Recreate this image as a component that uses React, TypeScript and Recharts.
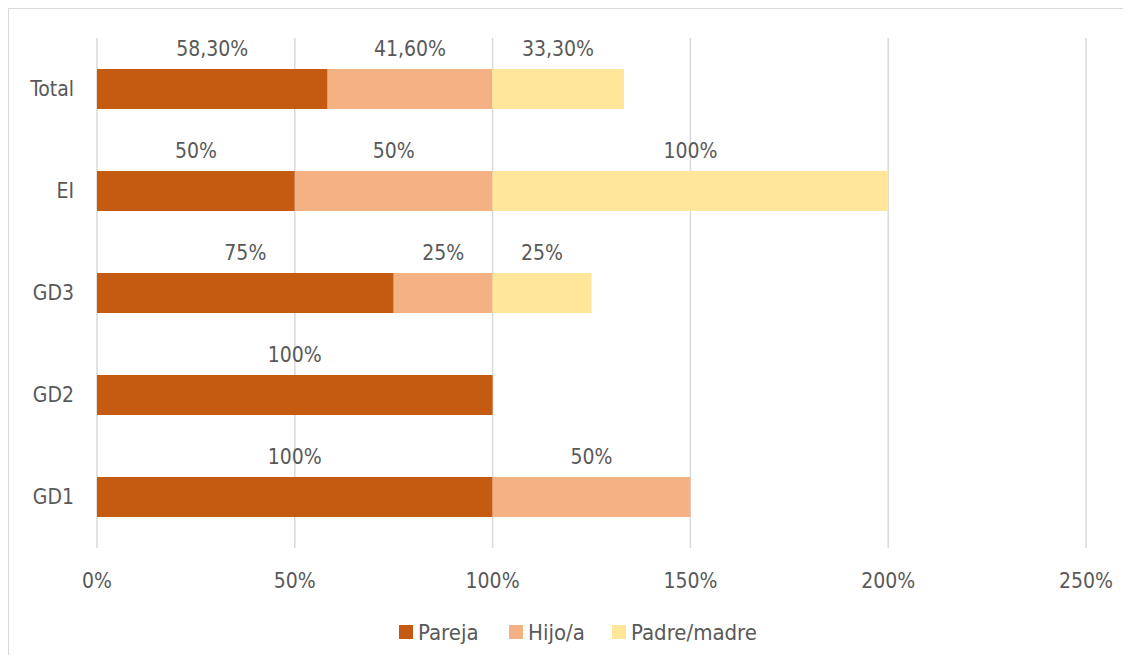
import React from 'react';
import { BarChart, Bar, XAxis, YAxis, CartesianGrid, LabelList, Legend } from 'recharts';

const categories = ['Total', 'EI', 'GD3', 'GD2', 'GD1'];
const pareja = [58.3, 50, 75, 100, 100];
const hijo = [41.6, 50, 25, 0, 50];
const padre = [33.3, 100, 25, 0, 0];
const xTicks = [0, 50, 100, 150, 200, 250];

const seriesNames = ['Pareja', 'Hijo/a', 'Padre/madre'];
const seriesColors = ['#C55A11', '#F4B183', '#FFE699'];

const data = categories.map((name, i) => ({
  name,
  pareja: pareja[i],
  hijo: hijo[i],
  padre: padre[i],
}));

const FONT = "'Liberation Sans Narrow', 'Arial Narrow', 'DejaVu Sans Condensed', 'Open Sans', sans-serif";
const TEXT = '#595959';
const FS = 21;
const LFS = 22;

const fmt = (v: any) => {
  const n = Number(v);
  if (!n) return '';
  if (Number.isInteger(n)) return `${n}%`;
  return `${n.toFixed(2).replace('.', ',')}%`;
};

const legendLefts = [390, 500, 603];

const LegendContent = () => (
  <div style={{ position: 'relative', height: 57, width: '100%' }}>
    {seriesNames.map((n, i) => (
      <div
        key={n}
        style={{
          position: 'absolute',
          left: legendLefts[i],
          top: 34 - 13,
          height: 26,
          display: 'flex',
          alignItems: 'center',
          fontFamily: FONT,
          fontSize: LFS,
          color: TEXT,
          whiteSpace: 'nowrap',
        }}
      >
        <span style={{ display: 'inline-block', width: 14, height: 14, background: seriesColors[i], marginRight: 5 }} />
        <span>{n}</span>
      </div>
    ))}
  </div>
);

export default function App() {
  return (
    <div style={{ width: 1123, height: 647, overflow: 'hidden', position: 'relative' }}>
      <div
        style={{
          position: 'absolute',
          left: 0,
          top: 0,
          width: 1160,
          height: 700,
          border: '1px solid #d9d9d9',
          boxSizing: 'border-box',
          background: '#fff',
        }}
      >
        <div style={{ position: 'absolute', left: 0, top: 1 }}>
          <BarChart
            width={1122}
            height={645}
            data={data}
            layout="vertical"
            margin={{ top: 28, right: 45, left: 0, bottom: 0 }}
            barSize={40}
          >
            <CartesianGrid horizontal={false} vertical={true} stroke="#d9d9d9" strokeWidth={1.5} />
            <XAxis
              type="number"
              domain={[0, 250]}
              ticks={xTicks}
              tickFormatter={(v: number) => `${v}%`}
              axisLine={false}
              tickLine={false}
              tickSize={0}
              tickMargin={25}
              height={50}
              interval={0}
              tick={{ fill: TEXT, fontSize: FS, fontFamily: FONT }}
            />
            <YAxis
              type="category"
              dataKey="name"
              width={88}
              axisLine={false}
              tickLine={false}
              tickSize={0}
              tickMargin={23}
              interval={0}
              tick={{ fill: TEXT, fontSize: FS, fontFamily: FONT }}
            />
            <Legend verticalAlign="bottom" height={57} content={LegendContent} />
            <Bar dataKey="pareja" name={seriesNames[0]} stackId="a" fill={seriesColors[0]} isAnimationActive={false}>
              <LabelList dataKey="pareja" position="top" offset={13} formatter={fmt} fill={TEXT} fontSize={FS} fontFamily={FONT} />
            </Bar>
            <Bar dataKey="hijo" name={seriesNames[1]} stackId="a" fill={seriesColors[1]} isAnimationActive={false}>
              <LabelList dataKey="hijo" position="top" offset={13} formatter={fmt} fill={TEXT} fontSize={FS} fontFamily={FONT} />
            </Bar>
            <Bar dataKey="padre" name={seriesNames[2]} stackId="a" fill={seriesColors[2]} isAnimationActive={false}>
              <LabelList dataKey="padre" position="top" offset={13} formatter={fmt} fill={TEXT} fontSize={FS} fontFamily={FONT} />
            </Bar>
          </BarChart>
        </div>
      </div>
    </div>
  );
}
